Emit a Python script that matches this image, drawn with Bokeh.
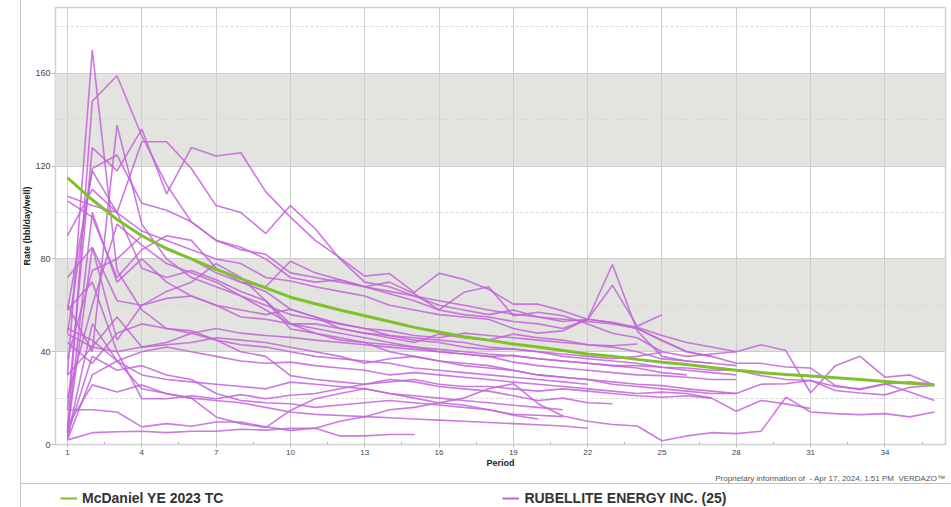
from bokeh.plotting import figure
from bokeh.models import (Range1d, FixedTicker, BoxAnnotation, Legend, LegendItem, Label,
                          ColumnDataSource)
from bokeh.embed import file_html
from bokeh.resources import INLINE

# ---------------- data ----------------
periods = list(range(1, 37))
x_ticks = [1, 4, 7, 10, 13, 16, 19, 22, 25, 28, 31, 34]
x_minor = [2.5, 5.5, 8.5, 11.5, 14.5, 17.5, 20.5, 23.5, 26.5, 29.5, 32.5, 35.5]
y_ticks = [0, 40, 80, 120, 160]
y_minor = [20, 60, 100, 140, 180]
bands = [(40, 80), (120, 160)]

tc_label = "McDaniel YE 2023 TC"
wells_label = "RUBELLITE ENERGY INC. (25)"
footer_text = "Proprietary information of \u00a0- Apr 17, 2024, 1:51 PM \u00a0VERDAZO\u2122"

tc_rate = [115, 105.5, 97, 90, 84.5, 80, 75.5, 71.5, 67.5, 63.5, 60.7, 58, 55.5, 53, 50.5, 48.5,
           46.5, 45, 43.3, 42, 40.5, 39, 38, 36.7, 35.5, 34.5, 33.2, 32, 31, 30.2, 29.5, 28.8,
           28, 27.2, 26.4, 25.7]

well_01 = [30, 170, 75, 58, 50, 48, 45, 43, 42, 40, 38, 37, 36, 35, 33, 32, 31, 30, 29, 28, 27, 26]
well_02 = [5, 148, 159, 133, 112, 96, 88, 84, 82, 74, 72, 70, 68, 70, 65, 58, 65.6, 68, 55.5, 57,
           55.5, 52, 48, 46, 40, 38, 39, 40, 43, 40.5, 22.3, 34, 38, 29, 30, 25.7]
well_03 = [15, 128, 118, 136, 108, 128, 124.4, 125.8, 109, 98, 88, 80.5, 72.6, 73.7, 65.6, 73.8,
           71.2, 66.9, 60.5, 60.5, 57.6, 54, 52.6, 50.5, 47, 44, 42, 40]
well_04 = [90, 110, 100, 130.5, 130.5, 119, 103, 100, 91, 103, 93, 80, 70, 68, 64, 60, 58, 56, 58,
           55, 53, 54, 52.6, 50, 45, 40, 38]
well_05 = [60, 40, 137.7, 95, 80, 72, 68, 64, 60, 56, 54, 52, 50, 49, 47, 46, 48, 47, 46, 45, 44,
           43, 42.6, 43.3]
well_06 = [48, 119, 124.8, 104, 101, 96, 88, 85, 80, 72, 70, 71, 68, 65, 62, 58, 56, 55, 53, 52, 50,
           54, 68.6, 51, 55.9]
well_07 = [107, 103, 100, 92, 88, 84, 80, 78, 72, 70.5, 68, 66, 64, 60, 58, 56, 55, 54, 50, 48, 49,
           54, 77.6, 49, 38, 36, 35]
well_08 = [105, 98, 72, 84, 90, 88, 76, 70, 66, 58.3, 55, 52, 50, 47, 46, 45, 44, 42, 41.2, 40, 38,
           37, 36, 35, 33.3, 32, 31, 30]
well_09 = [58, 118, 100, 76, 72, 75, 71, 66, 62, 52, 50, 48, 46, 44, 42, 41, 40, 39, 38.3, 37, 36,
           35, 34, 33, 31, 30]
well_10 = [2, 5.1, 5.5, 5.7, 5.1, 5.7, 5.7, 6.6, 6.2, 7, 7, 10, 12, 15, 16, 18, 20, 24, 26.2, 17.6,
           12.3, 10, 8.6, 8, 1.6, 3.7, 5.1, 4.7, 5.7, 20.4, 14, 13.3, 12.9, 13.3, 11.9, 14]
well_11 = [15, 15, 14, 7.6, 9, 7.9, 9.7, 9.7, 7.6, 6.1, 7, 3.7, 3.7, 4.3, 4.3]
well_12 = [8, 25.7, 22.6, 25.7, 21.9, 20, 11.9, 9, 7.3, 14.7, 19.7, 22, 24, 22, 20, 18, 17, 15, 13,
           12.6, 12]
well_13 = [30, 42, 40, 19.7, 19.7, 21, 19.7, 21.5, 19.7, 21.2, 22, 24, 26, 28, 27, 25, 24, 23, 21,
           19, 20, 18, 17.6]
well_14 = [72, 85, 45, 60, 66, 70, 78, 72, 62, 49.8, 48, 45, 44, 40, 38, 36, 35, 34, 32, 30, 29, 28,
           27, 26, 25.4, 24, 23, 22]
well_15 = [58, 70, 40, 42, 43, 44, 46, 45, 44, 41.9, 40, 38, 35, 37, 38, 36, 34, 33, 31.9, 30, 29,
           28, 26, 25, 24, 23, 22, 22, 26, 26.2, 27.6, 25, 24, 26.2, 22.6, 19]
well_16 = [50, 45, 36, 40, 42, 40, 38, 36, 35, 35.5, 34, 33, 32, 30, 31, 30, 29, 28, 26.9, 26, 25,
           24, 23, 22, 22.6, 22, 20, 14.3, 19, 17.5, 15.5]
well_17 = [47.6, 42, 55, 42, 44, 48, 50, 48, 47, 46.2, 45, 44, 43, 42, 41, 40, 39, 38, 38.3, 37, 36,
           35, 34, 34, 33.3, 33, 32, 32, 29.7, 28, 27.6, 23.3, 22.2, 21.4, 24.7, 25.5]
well_18 = [44, 35, 48, 52, 50, 49, 45, 40, 38, 29.7, 28, 27, 26, 27, 28, 26, 25, 25, 24, 23, 24, 23,
           22, 21, 20.4, 21, 20]
well_19 = [37, 75, 80, 90, 84, 80, 74, 70, 68, 79, 74, 71, 68, 66, 64, 62, 60, 58, 56.2, 55, 54, 53,
           52, 50, 44.7, 40, 38, 35, 35, 33.4, 33, 25.4, 23.6, 26, 27, 26]
well_20 = [20, 60, 95, 86, 78, 74, 70, 64, 58, 52, 48, 46, 44, 43, 42, 40, 39, 38, 35.5, 34, 33, 32,
           31, 30, 29.7, 29, 28, 28]
well_21 = [5, 85, 62, 60, 63, 64, 60, 58, 56, 58.3, 55, 50, 48, 47, 45, 44, 42, 41, 41.2, 40, 39, 38,
           37, 38, 39.8]
well_22 = [3, 52, 36, 30, 28, 27, 26, 25, 24, 26.9, 26, 25, 24, 22, 21, 20, 19, 18, 16.9, 16, 15]
well_23 = [4, 38, 32, 34, 30, 28, 22, 19, 18, 17.6, 16, 17, 18, 19, 18, 17, 16, 15, 12.6, 11]
well_24 = [6, 100, 70, 80, 70, 64, 60, 55, 54, 52, 52, 50, 48, 46, 44, 47.6, 46, 45, 47.6, 46, 45,
           43, 42, 40, 36.9, 36, 35, 34]
well_25 = [2, 30, 36, 24, 22, 20, 19, 18, 16, 14, 13, 12.5, 12, 11.5, 11, 10.5, 10, 9.5, 9, 8.5, 8, 7]

wells = [well_01, well_02, well_03, well_04, well_05, well_06, well_07, well_08, well_09, well_10,
         well_11, well_12, well_13, well_14, well_15, well_16, well_17, well_18, well_19, well_20,
         well_21, well_22, well_23, well_24, well_25]

# ---------------- styles ----------------
FONT = "Liberation Sans"
PURPLE = "#c263d9"
GREEN = "#7fc12b"
GRID = "#cdcdcd"
BAND = "#e3e3df"
EDGE = "#c4c4c4"

# ---------------- main chart ----------------
p = figure(width=951, height=470, output_backend="svg", toolbar_location=None,
           x_range=Range1d(0.5155, 36.446), y_range=Range1d(0, 188.4),
           min_border_left=55, min_border_right=6, min_border_top=7, min_border_bottom=25)
p.background_fill_color = "white"
p.border_fill_alpha = 0
p.outline_line_color = "#d0d0d0"
p.outline_line_width = 1.5
p.styles = {
    "background-image": f"linear-gradient({EDGE}, {EDGE})",
    "background-size": "1px 470px",
    "background-position": "20px 0px",
    "background-repeat": "no-repeat",
}

for lo, hi in bands:
    p.add_layout(BoxAnnotation(bottom=lo, top=hi, fill_color=BAND, fill_alpha=1,
                               line_alpha=0, level="image"))

xa = p.xaxis[0]
xa.ticker = FixedTicker(ticks=x_ticks, minor_ticks=x_minor)
xa.axis_label = "Period"
xa.axis_line_color = None
xa.major_tick_in = 0
xa.major_tick_out = 3
xa.major_tick_line_color = "#bdbdbd"
xa.minor_tick_in = 3
xa.minor_tick_out = 0
xa.minor_tick_line_color = "#bdbdbd"
xa.major_label_standoff = 2
xa.major_label_text_font = FONT
xa.major_label_text_font_size = "8px"
xa.major_label_text_color = "#444444"
xa.axis_label_standoff = 0
xa.axis_label_text_font = FONT
xa.axis_label_text_font_size = "9px"
xa.axis_label_text_font_style = "bold"
xa.axis_label_text_color = "#222222"

ya = p.yaxis[0]
ya.ticker = FixedTicker(ticks=y_ticks, minor_ticks=y_minor)
ya.axis_label = "Rate (bbl/day/well)"
ya.axis_line_color = None
ya.major_tick_in = 0
ya.major_tick_out = 4
ya.major_tick_line_color = "#bdbdbd"
ya.minor_tick_line_color = None
ya.major_label_standoff = 1
ya.major_label_text_font = FONT
ya.major_label_text_font_size = "9px"
ya.major_label_text_color = "#444444"
ya.axis_label_standoff = 0
ya.axis_label_text_font = FONT
ya.axis_label_text_font_size = "9px"
ya.axis_label_text_font_style = "bold"
ya.axis_label_text_color = "#222222"

p.xgrid.ticker = FixedTicker(ticks=x_ticks)
p.xgrid.grid_line_color = GRID
p.xgrid.grid_line_width = 1
p.ygrid.ticker = FixedTicker(ticks=y_ticks, minor_ticks=y_minor)
p.ygrid.grid_line_color = GRID
p.ygrid.minor_grid_line_color = "#d9d9d9"
p.ygrid.minor_grid_line_dash = "3 2"

for w in wells:
    src = ColumnDataSource(dict(period=periods[:len(w)], rate=w))
    p.line("period", "rate", source=src, line_color=PURPLE, line_alpha=0.85, line_width=1.6)

tc_src = ColumnDataSource(dict(period=periods[:len(tc_rate)], rate=tc_rate))
p.line("period", "rate", source=tc_src, line_color=GREEN, line_width=3)

# ---------------- footer + legend strip ----------------
lf = figure(width=951, height=37, output_backend="svg", toolbar_location=None,
            x_range=Range1d(0, 1), y_range=Range1d(0, 1),
            x_axis_location=None, y_axis_location=None,
            min_border_left=0, min_border_right=0, min_border_top=0, min_border_bottom=0)
lf.grid.visible = False
lf.outline_line_color = None
lf.background_fill_alpha = 0
lf.border_fill_alpha = 0
lf.styles = {
    "background-image": f"linear-gradient({EDGE}, {EDGE}), linear-gradient({EDGE}, {EDGE})",
    "background-size": "1px 37px, 931px 1px",
    "background-position": "20px 0px, 20px 13px",
    "background-repeat": "no-repeat",
}

lf.add_layout(Label(x=945, y=29, x_units="screen", y_units="screen", text=footer_text,
                    text_align="right", text_baseline="middle", text_font=FONT,
                    text_font_size="8px", text_color="#555555"))

nan = float("nan")
r_tc = lf.line(x=[nan], y=[nan], line_color=GREEN, line_width=2)
r_w = lf.line(x=[nan], y=[nan], line_color=PURPLE, line_width=2)
legend = Legend(items=[LegendItem(label=tc_label, renderers=[r_tc]),
                       LegendItem(label=wells_label, renderers=[r_w])],
                orientation="horizontal", location=(60, 1), spacing=279,
                padding=0, margin=0, border_line_color=None, background_fill_alpha=0,
                glyph_width=17, glyph_height=14, label_height=14, label_standoff=5,
                label_text_font=FONT, label_text_font_size="14px",
                label_text_font_style="bold", label_text_color="#333333")
lf.add_layout(legend)

open("out.html", "w").write(file_html([p, lf], INLINE))
